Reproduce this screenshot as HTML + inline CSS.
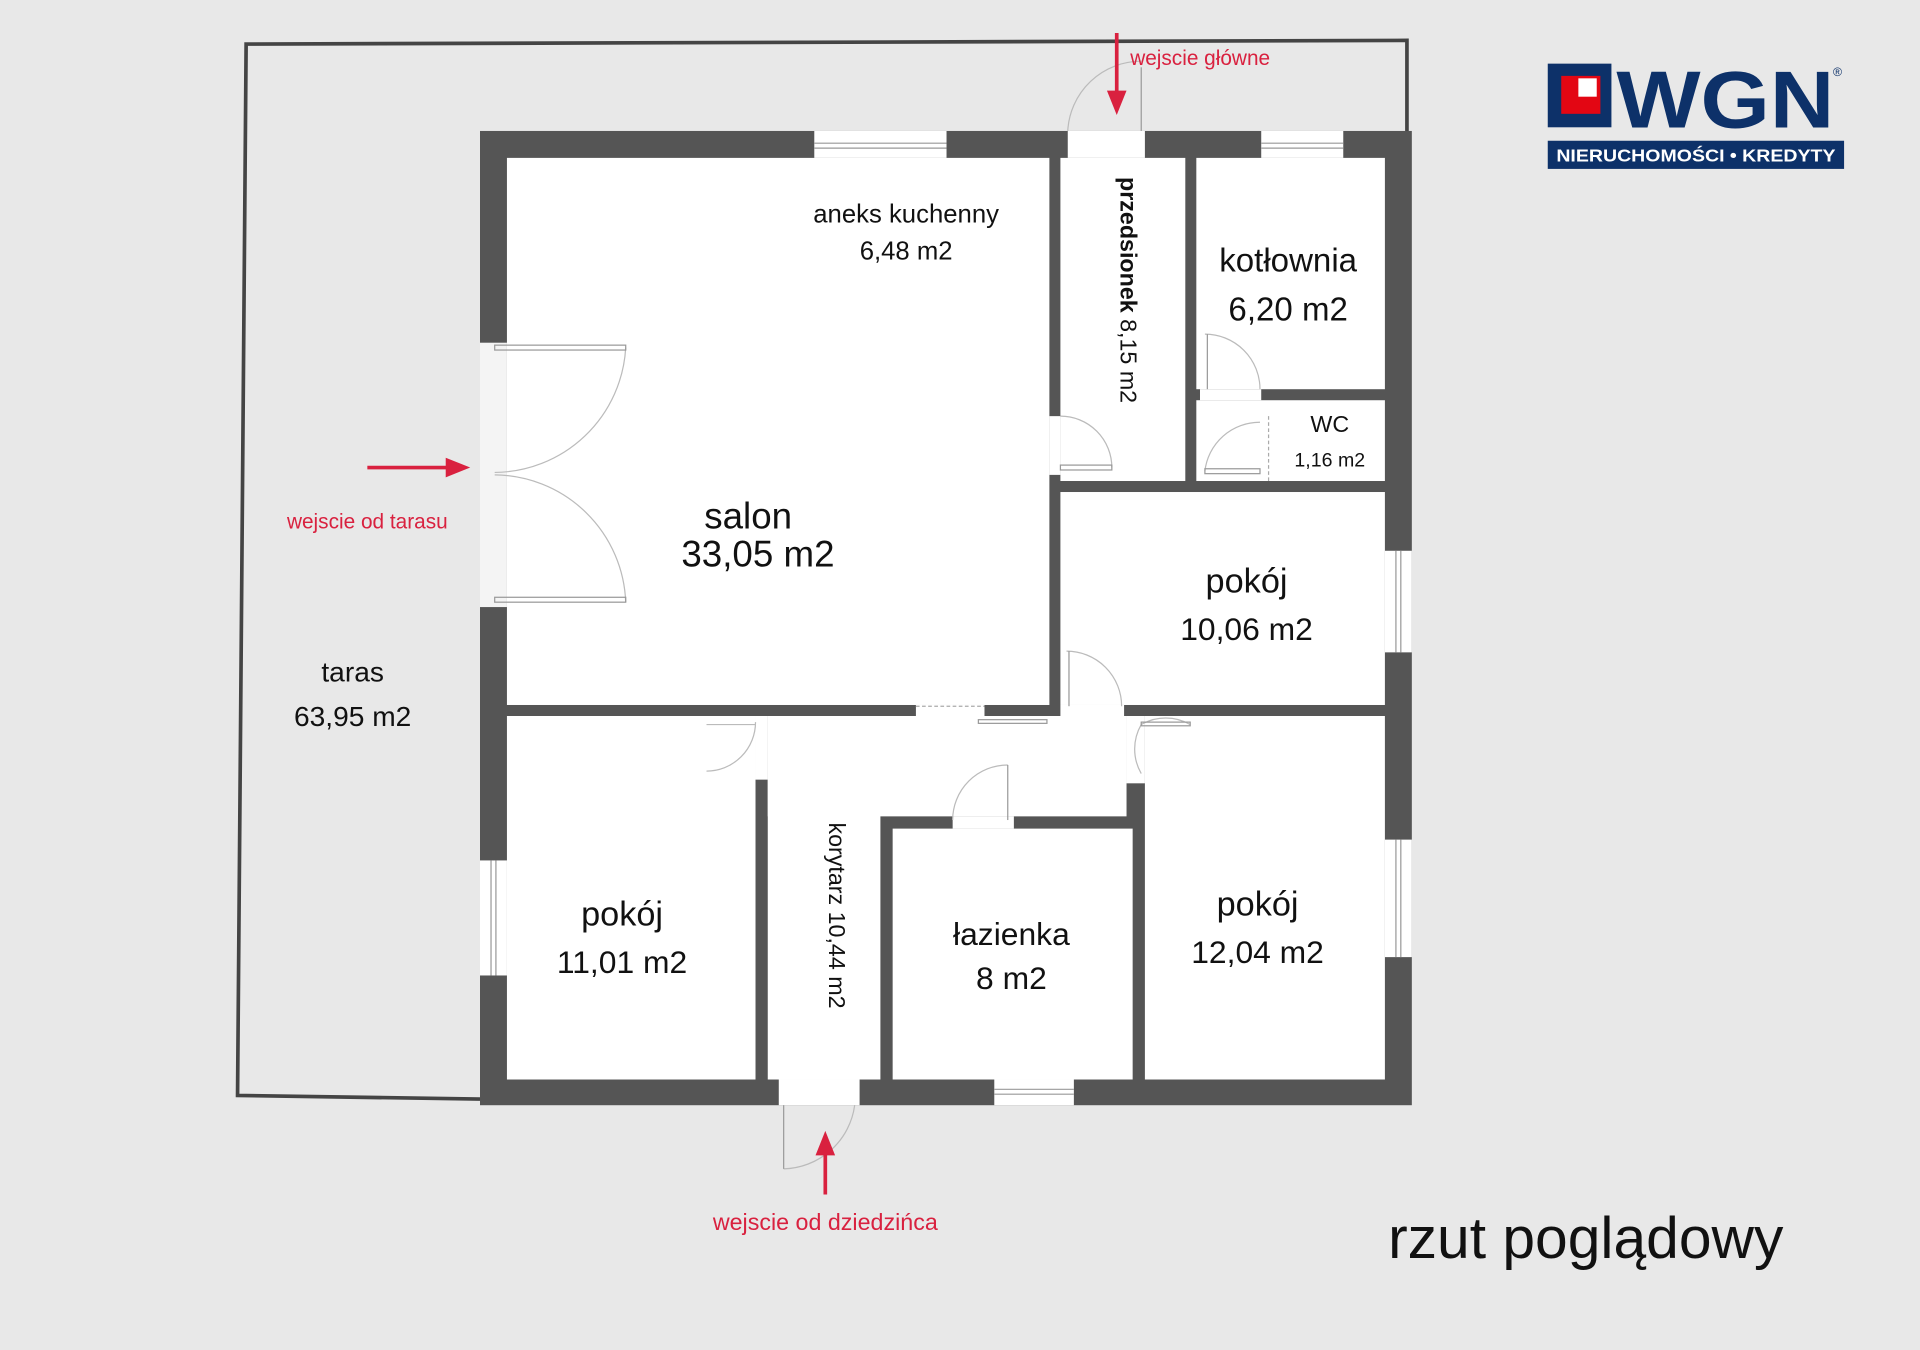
<!DOCTYPE html>
<html><head><meta charset="utf-8"><style>
html,body{margin:0;padding:0;background:#e8e8e8;}
svg{display:block;}
text{font-family:"Liberation Sans",sans-serif;}
</style></head><body>
<svg width="1920" height="1350" viewBox="0 0 1568 1103" preserveAspectRatio="none" xmlns="http://www.w3.org/2000/svg">
<rect x="0" y="0" width="1568" height="1103" fill="#e8e8e8"/>
<!-- terrace outline -->
<polyline points="392,898 194,895 201,36 1149,33 1149,110" fill="none" stroke="#444" stroke-width="3"/>
<!-- building -->
<rect x="392" y="107" width="761" height="796" fill="#555"/>
<g fill="#fff">
<rect x="414" y="129" width="443" height="447"/>
<rect x="866" y="129" width="102" height="264"/>
<rect x="977" y="327" width="154" height="66"/>
<rect x="977" y="129" width="154" height="189"/>
<rect x="866" y="402" width="265" height="174"/>
<rect x="627" y="585" width="293" height="82"/>
<rect x="627" y="585" width="92" height="297"/>
<rect x="935" y="585" width="196" height="297"/>
<rect x="920" y="585" width="15" height="55"/>
<rect x="414" y="585" width="203" height="297"/>
<rect x="729" y="677" width="196" height="205"/>
<!-- openings -->
<rect x="748" y="576" width="56" height="9"/>
<rect x="857" y="340" width="9" height="48"/>
<rect x="617" y="585" width="10" height="52"/>
<rect x="778" y="667" width="50" height="10"/>
<rect x="866" y="576" width="52" height="9"/>
<rect x="980" y="318" width="50" height="9"/>
<rect x="1029" y="340" width="7" height="53"/>
<rect x="392" y="280" width="22" height="216" fill="#f4f4f4"/>
<rect x="872" y="107" width="63" height="22"/>
<rect x="636" y="882" width="66" height="21"/>
<!-- windows -->
<rect x="665" y="107" width="108" height="22"/>
<rect x="1030" y="107" width="67" height="22"/>
<rect x="1131" y="450" width="22" height="83"/>
<rect x="1131" y="686" width="22" height="96"/>
<rect x="392" y="703" width="22" height="94"/>
<rect x="812" y="882" width="65" height="21"/>
</g>
<!-- window lines -->
<g stroke="#999" stroke-width="1" fill="none">
<line x1="665" y1="117" x2="773" y2="117"/><line x1="665" y1="121" x2="773" y2="121"/>
<line x1="1030" y1="117" x2="1097" y2="117"/><line x1="1030" y1="121" x2="1097" y2="121"/>
<line x1="1140" y1="450" x2="1140" y2="533"/><line x1="1144" y1="450" x2="1144" y2="533"/>
<line x1="1140" y1="686" x2="1140" y2="782"/><line x1="1144" y1="686" x2="1144" y2="782"/>
<line x1="401" y1="703" x2="401" y2="797"/><line x1="405" y1="703" x2="405" y2="797"/>
<line x1="812" y1="890" x2="877" y2="890"/><line x1="812" y1="894" x2="877" y2="894"/>
</g>
<!-- door swings -->
<g stroke="#bbb" stroke-width="1" fill="none">
<path d="M404,386 A108,108 0 0 0 511,284"/>
<path d="M404,388 A108,108 0 0 1 511,492"/>
<rect x="404" y="282" width="107" height="4" stroke="#999"/>
<rect x="404" y="488" width="107" height="4" stroke="#999"/>
<path d="M866,340 A42,42 0 0 1 908,382"/><rect x="866" y="380" width="42" height="4" stroke="#999"/>
<path d="M984,273 A45,45 0 0 1 1029,318"/><line x1="986" y1="273" x2="986" y2="318" stroke="#999"/>
<path d="M1029,345 A45,45 0 0 0 984,385"/><rect x="984" y="383" width="45" height="4" stroke="#999"/>
<path d="M871,532 A45,45 0 0 1 916,577"/><line x1="873" y1="532" x2="873" y2="577" stroke="#999"/>
<path d="M617,590 A40,40 0 0 1 577,630 M577,592 L617,592" />
<path d="M932,592 A40,40 0 0 1 972,592 M932,592 A40,40 0 0 0 932,632"/>
<rect x="932" y="590" width="40" height="3" stroke="#999"/>
<path d="M823,625 A45,45 0 0 0 778,670"/><line x1="823" y1="625" x2="823" y2="670" stroke="#999"/>
<path d="M640,955 A60,60 0 0 0 698,903"/><line x1="640" y1="903" x2="640" y2="955" stroke="#999"/>
<path d="M872,107 A60,60 0 0 1 932,50"/><line x1="932" y1="55" x2="932" y2="107" stroke="#999"/>
<rect x="799" y="588" width="56" height="3" stroke="#999"/>
</g>
<g stroke="#aaa" stroke-width="1" stroke-dasharray="3,2" fill="none">
<line x1="1036" y1="340" x2="1036" y2="393"/>
<line x1="748" y1="577" x2="804" y2="577"/>
</g>
<!-- arrows -->
<g stroke="#d9213f" stroke-width="3" fill="#d9213f">
<line x1="912" y1="27" x2="912" y2="80"/><polygon points="904,74 920,74 912,94" stroke="none"/>
<line x1="300" y1="382" x2="368" y2="382"/><polygon points="364,374 364,390 384,382" stroke="none"/>
<line x1="674" y1="976" x2="674" y2="940"/><polygon points="666,944 682,944 674,924" stroke="none"/>
</g>
<!-- labels -->
<g fill="#d9213f" font-size="17">
<text x="923" y="53">wejscie  główne</text>
<text x="300" y="432" text-anchor="middle">wejscie od tarasu</text>
<text x="674" y="1005" text-anchor="middle" font-size="19">wejscie od dziedzińca</text>
</g>
<g fill="#111" text-anchor="middle">
<text x="740" y="182" font-size="21">aneks kuchenny</text>
<text x="740" y="212" font-size="21">6,48 m2</text>
<text transform="translate(915,237) rotate(90)" font-size="19"><tspan font-weight="bold">przedsionek</tspan> 8,15 m2</text>
<text x="1052" y="222" font-size="27">kotłownia</text>
<text x="1052" y="262" font-size="27">6,20 m2</text>
<text x="1086" y="353" font-size="19">WC</text>
<text x="1086" y="381" font-size="16">1,16 m2</text>
<text x="611" y="432" font-size="30">salon</text>
<text x="619" y="463" font-size="30">33,05 m2</text>
<text x="1018" y="484" font-size="28">pokój</text>
<text x="1018" y="523" font-size="26">10,06 m2</text>
<text x="288" y="557" font-size="23">taras</text>
<text x="288" y="593" font-size="23">63,95 m2</text>
<text x="508" y="756" font-size="28">pokój</text>
<text x="508" y="795" font-size="26">11,01 m2</text>
<text transform="translate(677,748) rotate(90)" font-size="19">korytarz 10,44 m2</text>
<text x="826" y="772" font-size="26">łazienka</text>
<text x="826" y="808" font-size="26">8 m2</text>
<text x="1027" y="748" font-size="28">pokój</text>
<text x="1027" y="787" font-size="26">12,04 m2</text>
<text x="1295" y="1028" font-size="48">rzut poglądowy</text>
</g>
<!-- logo -->
<rect x="1264" y="52" width="52" height="52" fill="#0d3169"/>
<rect x="1275" y="62" width="32" height="31" fill="#e30613"/>
<rect x="1289" y="64" width="15" height="15" fill="#fff"/>
<text x="1320" y="104" font-size="66" font-weight="bold" fill="#0d3169" textLength="178" lengthAdjust="spacingAndGlyphs">WGN</text>
<text x="1497" y="62" font-size="10" fill="#0d3169">®</text>
<rect x="1264" y="115" width="242" height="23" fill="#0d3169"/>
<text x="1385" y="132" font-size="14" font-weight="bold" fill="#fff" text-anchor="middle" textLength="228" lengthAdjust="spacingAndGlyphs">NIERUCHOMOŚCI • KREDYTY</text>
</svg>
</body></html>
